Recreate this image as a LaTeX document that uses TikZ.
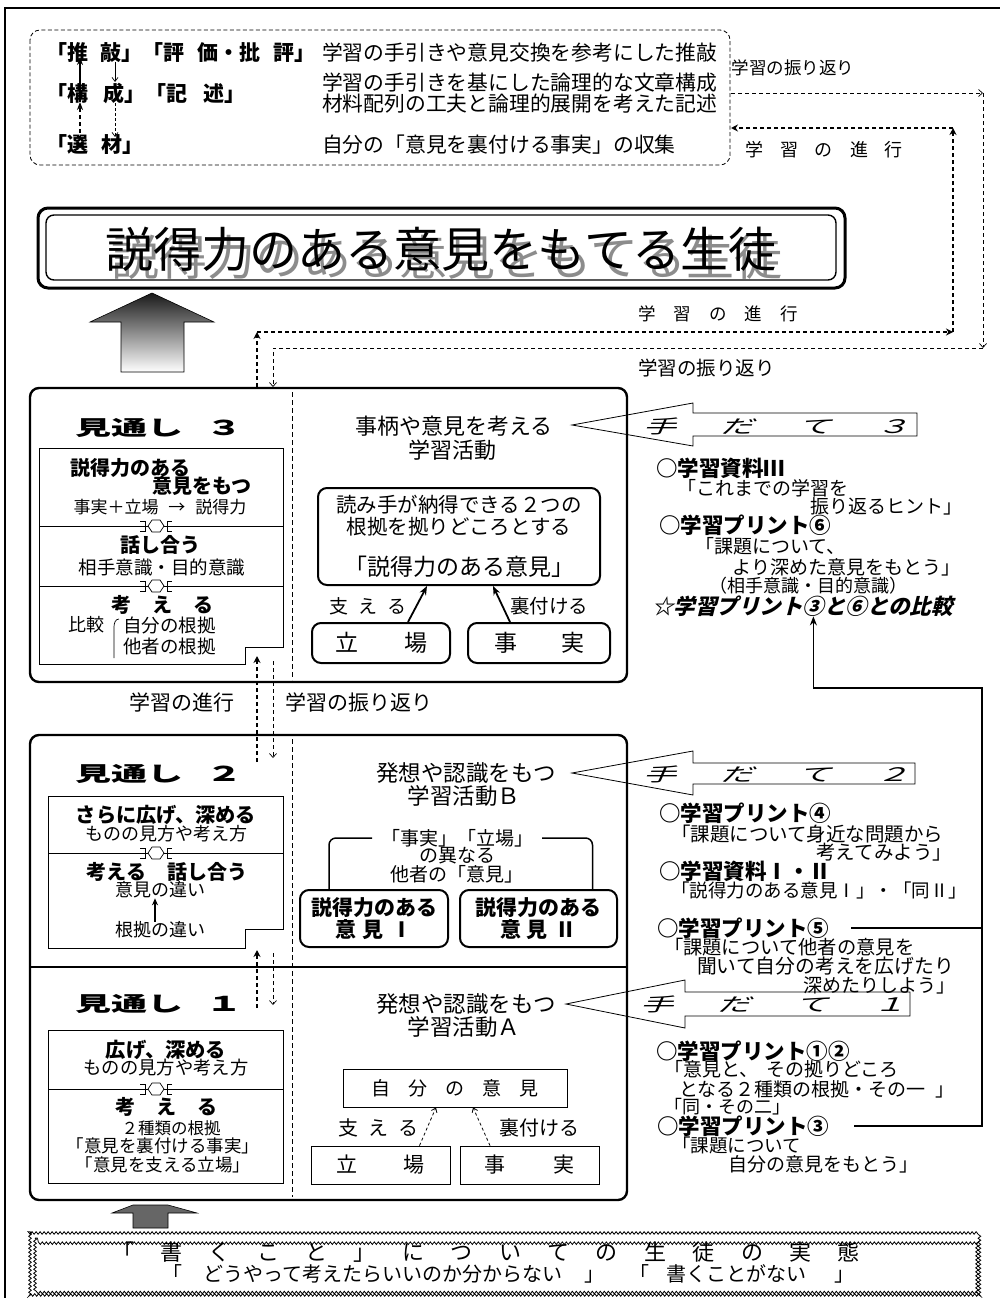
\documentclass[tikz,border=0pt]{standalone}
\usepackage{fontspec}
\setmainfont{Noto Sans CJK JP}
\newfontfamily\jpsl[FakeSlant=0.25]{Noto Sans CJK JP}
\usetikzlibrary{arrows.meta,decorations.pathmorphing}
\newcommand\fz[1]{\fontsize{#1}{#1}\selectfont}
\newcommand\hsp[1]{\hspace{#1pt}}
\newcommand\linksym[2]{%
  \begin{scope}[shift={(#1,#2)}]
    \draw[line width=0.7pt, fill=white] (-8,0) -- (-4,-6) -- (4,-6) -- (8,0) -- (4,6) -- (-4,6) -- cycle;
    \draw[line width=0.7pt] (-16,-5) -- (-11,-5) -- (-11,5) -- (-16,5);
    \draw[line width=0.7pt] (16,-5) -- (11,-5) -- (11,5) -- (16,5);
  \end{scope}}
\begin{document}
\begin{tikzpicture}[x=1pt,y=-1pt,
  tx/.style={inner sep=0pt, outer sep=0pt},
  stagebox/.style={draw, line width=2.4pt, rounded corners=9pt},
  inbox/.style={draw, line width=0.8pt},
  rbox/.style={draw, line width=2pt, rounded corners=9pt, inner sep=0pt},
  sqbox/.style={draw, line width=0.8pt, inner sep=0pt},
  prog/.style={line width=2.2pt, dash pattern=on 4pt off 3pt, -{Stealth[length=7pt,width=7pt]}},
  refl/.style={line width=0.7pt, dash pattern=on 4pt off 3pt, -{Straight Barb[length=4pt,width=7pt]}},
  divider/.style={line width=0.8pt, dash pattern=on 5pt off 3pt},
  solidarr/.style={line width=1.8pt, -{Stealth[length=9pt,width=7pt]}},
  dasharr/.style={line width=0.8pt, dash pattern=on 3pt off 2.5pt, -{Straight Barb[length=4pt,width=6pt]}},
  blockarrow/.style={draw, line width=0.8pt},
  lnk/.style={line width=1.5pt},
]
\useasboundingbox (0,0) rectangle (999,1298);
\fill[white] (0,0) rectangle (999,1298);
% outer frame
\draw[line width=2pt] (5,1300) -- (5,8) -- (1003,8);

% ===== top dashed box =====
\draw[line width=0.8pt, dash pattern=on 4pt off 2.5pt, rounded corners=10pt] (30,30) rectangle (730,165);
\node[tx,anchor=west] (kw1) at (46,53) {\fz{21}\bfseries 「推\hsp{13}敲」「評\hsp{13}価・批\hsp{13}評」};
\node[tx,anchor=west] (kw2) at (46,93) {\fz{21}\bfseries 「構\hsp{16}成」「記\hsp{16}述」};
\node[tx,anchor=west] (kw3) at (46,145) {\fz{21}\bfseries 「選\hsp{14}材」};
\node[tx,anchor=west] (d1) at (322,53) {\fz{20.8}学習の手引きや意見交換を参考にした推敲};
\node[tx,anchor=west] (d2) at (322,83) {\fz{20.8}学習の手引きを基にした論理的な文章構成};
\node[tx,anchor=west] (d3) at (322,104) {\fz{20.8}材料配列の工夫と論理的展開を考えた記述};
\node[tx,anchor=west] (d4) at (322,145) {\fz{20.8}自分の「意見を裏付ける事実」の収集};
\coordinate (ka) at (80,102); \coordinate (kb) at (80,57); \coordinate (kc) at (80,147);
\draw[line width=2pt,-{Stealth[length=8pt,width=6pt]}] (ka) -- (kb);
\draw[line width=2pt,dash pattern=on 4pt off 3pt,-{Stealth[length=8pt,width=6pt]}] (kc) -- (ka);
\coordinate (kd) at (115,62); \coordinate (ke) at (115,82);
\coordinate (kf) at (115,103); \coordinate (kg) at (115,137);
\draw[line width=0.7pt,-{Straight Barb[length=4pt,width=6pt]}] (kd) -- (ke);
\draw[line width=0.7pt,dash pattern=on 3pt off 2pt,-{Straight Barb[length=4pt,width=6pt]}] (kf) -- (kg);

% ===== learning loop paths =====
\node[tx] (lfb1) at (793,68) {\fz{17.5}学習の振り返り};
\node[tx,anchor=west] (lpg1) at (745,150) {\fz{18}学\hsp{17}習\hsp{17}の\hsp{17}進\hsp{17}行};
\node[tx,anchor=west] (lpg2) at (638,314) {\fz{17.5}学\hsp{18}習\hsp{18}の\hsp{18}進\hsp{18}行};
\node[tx,anchor=west] (lfb2) at (638,368) {\fz{19.5}学習の振り返り};
\coordinate (rf0) at (731,93); \coordinate (rf1) at (983,93);
\coordinate (rf2) at (983,348); \coordinate (rf3) at (273,348); \coordinate (rf4) at (273,387);
\draw[refl] (rf0) -- (rf1);
\draw[refl] (rf1) -- (rf2);
\draw[refl] (rf2) -- (rf3) -- (rf4);
\coordinate (pg0) at (257,387); \coordinate (pg1) at (257,332);
\coordinate (pg2) at (953,332); \coordinate (pg3) at (953,128); \coordinate (pg4) at (731,128);
\draw[prog] (pg0) -- (pg1);
\draw[prog] (pg1) -- (pg2);
\draw[prog] (pg2) -- (pg3);
\draw[prog] (pg3) -- (pg4);

% ===== title =====
\draw[line width=3pt, rounded corners=10pt] (38,208) rectangle (845,288);
\draw[line width=1.4pt, rounded corners=8pt] (46,215) rectangle (836,280);
\node[tx, text=black!45] (titsh) at (447,257) {\fz{48}説得力のある意見をもてる生徒};
\node[tx] (title) at (441,249) {\fz{48}説得力のある意見をもてる生徒};

% big gradient arrow
\shade[top color=black!90, bottom color=white, draw=black, line width=0.6pt]
  (152,293) -- (214,322) -- (184,322) -- (184,372) -- (121,372) -- (121,322) -- (90,322) -- cycle;

% ===== stage 3 =====
\draw[stagebox] (30,388) rectangle (627,682);
\draw[divider] (292,392) -- (292,680);
\node[tx,anchor=west] (m3) at (75,428) {\scalebox{1.5}[0.85]{\fz{24}\bfseries 見通し\hsp{16}３}};
\draw[inbox] (39,448) -- (283,448) -- (283,647) -- (245,647) -- (245,664) -- (39,664) -- cycle;
\draw[line width=0.8pt] (39,526) -- (283,526);
\draw[line width=0.8pt] (39,586) -- (283,586);
\node[tx,anchor=west] (s3a) at (70,468) {\fz{20}\bfseries 説得力のある};
\node[tx,anchor=west] (s3b) at (152,486) {\fz{20}\bfseries 意見をもつ};
\node[tx] (s3c) at (160,507) {\fz{17}事実＋立場\hsp{10}→\hsp{10}説得力};
\node[tx] (s3d) at (160,545) {\fz{20}\bfseries 話し合う};
\node[tx] (s3e) at (162,567) {\fz{18.5}相手意識・目的意識};
\node[tx] (s3f) at (162,605) {\fz{20}\bfseries 考\hsp{21}え\hsp{21}る};
\node[tx,anchor=west] (s3g) at (68,625) {\fz{18}比較};
\draw[line width=0.7pt] (119,619) to[out=180,in=90] (114,627) -- (114,658);
\node[tx,anchor=west] (s3h) at (123,625) {\fz{18.5}自分の根拠};
\node[tx,anchor=west] (s3i) at (123,646) {\fz{18.5}他者の根拠};
\linksym{156}{526}
\linksym{156}{586}

\node[tx] (act3a) at (454,426) {\fz{22}事柄や意見を考える};
\node[tx] (act3b) at (452,450) {\fz{22}学習活動};
\node[rbox, minimum width=282pt, minimum height=97pt] (op3) at (459,536.5) {};
\node[tx] (op3a) at (459,505) {\fz{20.5}読み手が納得できる２つの};
\node[tx] (op3b) at (459,527) {\fz{20.5}根拠を拠りどころとする};
\node[tx] (op3c) at (459,567) {\fz{23}「説得力のある意見」};
\node[rbox, minimum width=138pt, minimum height=40pt] (tb3) at (381,643) {\fz{23}立\hsp{46}場};
\node[rbox, minimum width=142pt, minimum height=40pt] (jj3) at (539,643) {\fz{23}事\hsp{44}実};
\draw[solidarr] ([xshift=27pt]tb3.north) -- ([xshift=-32pt]op3.south);
\draw[solidarr] ([xshift=-29pt]jj3.north) -- ([xshift=34pt]op3.south);
\node[tx] (sa3) at (368,606) {\fz{19}支\hsp{10}え\hsp{10}る};
\node[tx] (ur3) at (549,606) {\fz{19.5}裏付ける};

% tedate 3
\draw[blockarrow] (572,425) -- (693,403) -- (693,413) -- (917,413) -- (917,436) -- (693,436) -- (693,446) -- cycle;
\node[tx,anchor=west] (td3) at (643,426) {\scalebox{1.5}[0.85]{\jpsl\fz{22}手\hsp{30}だ\hsp{30}て\hsp{30}３}};
\node[tx,anchor=west] (r3a) at (656,468) {\fz{21.5}\bfseries ○学習資料Ⅲ};
\node[tx,anchor=west] (r3b) at (677,488) {\fz{19}「これまでの学習を};
\node[tx,anchor=east] (r3c) at (962,506) {\fz{19}振り返るヒント」};
\node[tx,anchor=west] (r3d) at (659,525) {\fz{21.5}\bfseries ○学習プリント⑥};
\node[tx,anchor=west] (r3e) at (695,546) {\fz{19}「課題について、};
\node[tx,anchor=east] (r3f) at (960,567) {\fz{19}より深めた意見をもとう」};
\node[tx] (r3g) at (808,586) {\fz{18}（相手意識・目的意識）};
\node[tx,anchor=west] (hikaku) at (652,606) {\jpsl\fz{21.5}\bfseries ☆学習プリント③と⑥との比較};

% between stage 3 and 2
\node[tx] (mpg) at (182,702) {\fz{21}学習の進行};
\node[tx] (mfb) at (359,702) {\fz{21}学習の振り返り};
\coordinate (p2a) at (257,762); \coordinate (p2b) at (257,656);
\draw[prog] (p2a) -- (p2b);
\coordinate (f2a) at (273,661); \coordinate (f2b) at (273,758);
\draw[refl] (f2a) -- (f2b);

% ===== stage 2 + 1 box =====
\draw[stagebox] (30,735) rectangle (627,1200);
\draw[line width=2pt] (30,967) -- (627,967);
\draw[divider] (292,739) -- (292,1197);

% stage 2
\node[tx,anchor=west] (m2) at (75,774) {\scalebox{1.5}[0.85]{\fz{24}\bfseries 見通し\hsp{16}２}};
\draw[inbox] (48,796) -- (283,796) -- (283,929) -- (245,929) -- (245,948) -- (48,948) -- cycle;
\draw[line width=0.8pt] (48,853) -- (283,853);
\node[tx] (s2a) at (166,815) {\fz{20.2}\bfseries さらに広げ、深める};
\node[tx] (s2b) at (166,834) {\fz{18}ものの見方や考え方};
\node[tx] (s2c) at (167,872) {\fz{20}\bfseries 考える\hsp{21}話し合う};
\node[tx] (s2d) at (160,890) {\fz{18}意見の違い};
\node[tx] (s2e) at (160,930) {\fz{18}根拠の違い};
\draw[line width=1.8pt,-{Stealth[length=7pt,width=6pt]}] (s2e.north -| 155,0) -- (s2d.south -| 155,0);
\linksym{156}{853}

\node[tx] (act2a) at (466,773) {\fz{22.5}発想や認識をもつ};
\node[tx] (act2b) at (464,796) {\fz{22.5}学習活動Ｂ};
\node[tx] (tb) at (457,838) {\fz{19}「事実」「立場」};
\node[tx] (tbb) at (457,856) {\fz{19}の異なる};
\node[tx] (tbc) at (457,874) {\fz{19}他者の「意見」};
\node[rbox, minimum width=148pt, minimum height=57pt, align=center, font={\fz{21}\bfseries}] (ik1) at (374,918.5) {説得力のある\\[1pt]意\hsp{6}見\hsp{8}Ⅰ};
\node[rbox, minimum width=157pt, minimum height=57pt, align=center, font={\fz{21}\bfseries}] (ik2) at (538.5,918.5) {説得力のある\\[1pt]意\hsp{6}見\hsp{8}Ⅱ};
\draw[lnk, rounded corners=7pt] ([xshift=-45pt]ik1.north) |- ([xshift=-9pt]tb.west);
\draw[lnk, rounded corners=7pt] ([xshift=54pt]ik2.north) |- ([xshift=9pt]tb.east);

% tedate 2
\draw[blockarrow] (572,773) -- (693,751) -- (693,763) -- (915,763) -- (915,784) -- (693,784) -- (693,795) -- cycle;
\node[tx,anchor=west] (td2) at (643,774) {\scalebox{1.5}[0.85]{\jpsl\fz{22}手\hsp{30}だ\hsp{30}て\hsp{30}２}};
\node[tx,anchor=west] (r2a) at (659,813) {\fz{21.5}\bfseries ○学習プリント④};
\node[tx,anchor=west] (r2b) at (671,834) {\fz{19.5}「課題について身近な問題から};
\node[tx,anchor=east] (r2c) at (952,852) {\fz{19.5}考えてみよう」};
\node[tx,anchor=west] (r2d) at (659,871) {\fz{21.5}\bfseries ○学習資料Ⅰ・Ⅱ};
\node[tx,anchor=west] (r2e) at (671,890) {\fz{18.5}「説得力のある意見Ⅰ」・「同Ⅱ」};
\node[tx,anchor=west] (pp5) at (657,928) {\fz{21.5}\bfseries ○学習プリント⑤};
\node[tx,anchor=west] (r2g) at (664,947) {\fz{19.3}「課題について他者の意見を};
\node[tx,anchor=west] (r2h) at (697,966) {\fz{19.8}聞いて自分の考えを広げたり};
\node[tx,anchor=east] (r2i) at (955,985) {\fz{19}深めたりしよう」};

% between stage 2 and 1
\coordinate (p1a) at (257,1008); \coordinate (p1b) at (257,950);
\draw[prog] (p1a) -- (p1b);
\coordinate (f1a) at (273,953); \coordinate (f1b) at (273,1005);
\draw[refl] (f1a) -- (f1b);

% stage 1
\node[tx,anchor=west] (m1) at (75,1004) {\scalebox{1.5}[0.85]{\fz{24}\bfseries 見通し\hsp{16}１}};
\draw[inbox] (48,1030) rectangle (283,1183);
\draw[line width=0.8pt] (48,1089) -- (283,1089);
\node[tx] (s1a) at (166,1050) {\fz{20.3}\bfseries 広げ、深める};
\node[tx] (s1b) at (166,1068) {\fz{18.3}ものの見方や考え方};
\node[tx] (s1c) at (166,1107) {\fz{20}\bfseries 考\hsp{21}え\hsp{21}る};
\node[tx] (s1d) at (171,1128) {\fz{16.5}２種類の根拠};
\node[tx] (s1e) at (163,1146) {\fz{17.5}「意見を裏付ける事実」};
\node[tx] (s1f) at (163,1165) {\fz{17.5}「意見を支える立場」};
\linksym{156}{1089}

\node[tx] (act1a) at (466,1004) {\fz{22.5}発想や認識をもつ};
\node[tx] (act1b) at (464,1027) {\fz{22.5}学習活動Ａ};
\node[sqbox, minimum width=224pt, minimum height=38pt] (jibun) at (455,1088) {\fz{19}自\hsp{18}分\hsp{18}の\hsp{18}意\hsp{18}見};
\node[sqbox, minimum width=139pt, minimum height=38pt] (tb1) at (380.5,1165) {\fz{21}立\hsp{46}場};
\node[sqbox, minimum width=139pt, minimum height=38pt] (jj1) at (529.5,1165) {\fz{21}事\hsp{48}実};
\draw[dasharr] ([xshift=39pt]tb1.north) -- ([xshift=-19pt]jibun.south);
\draw[dasharr] ([xshift=-39.5pt]jj1.north) -- ([xshift=18pt]jibun.south);
\node[tx] (sa1) at (378,1128) {\fz{20}支\hsp{10}え\hsp{10}る};
\node[tx] (ur1) at (539,1128) {\fz{20}裏付ける};

% tedate 1
\draw[blockarrow] (566,1004) -- (685,980) -- (685,992) -- (910,992) -- (910,1016) -- (685,1016) -- (685,1028) -- cycle;
\node[tx,anchor=west] (td1) at (640,1004) {\scalebox{1.5}[0.85]{\jpsl\fz{22}手\hsp{30}だ\hsp{30}て\hsp{30}１}};
\node[tx,anchor=west] (r1a) at (656,1051) {\fz{21.5}\bfseries ○学習プリント①②};
\node[tx,anchor=west] (r1b) at (664,1069) {\fz{19}「意見と、\hsp{8}その拠りどころ};
\node[tx,anchor=west] (r1c) at (679,1089) {\fz{19}となる２種類の根拠・その一\hsp{10}」};
\node[tx,anchor=west] (r1d) at (664,1107) {\fz{18}「同・その二」};
\node[tx,anchor=west] (pp3) at (657,1126) {\fz{21.5}\bfseries ○学習プリント③};
\node[tx,anchor=west] (r1f) at (672,1145) {\fz{18.5}「課題について};
\node[tx,anchor=east] (r1g) at (918,1164) {\fz{19}自分の意見をもとう」};

% connector from plints 3 and 5 to comparison
\coordinate (cR) at (982,688);
\draw[line width=1.5pt,-{Stealth[length=9pt,width=7pt]}] ([xshift=25pt]pp3.east) -| (cR) -| ([xshift=11pt]hikaku.south);
\draw[line width=1.5pt] ([xshift=22pt]pp5.east) -- (pp5.east -| cR);

% ===== bottom =====
\draw[line width=0.6pt, fill=black!60] (133,1205) -- (168,1205) -- (197,1213) -- (168,1213) -- (168,1228) -- (133,1228) -- (133,1213) -- (112,1213) -- cycle;
\draw[line width=0.8pt, decorate, decoration={snake, amplitude=1.3pt, segment length=4pt}] (30,1233) rectangle (983,1295);
\draw[line width=0.8pt, decorate, decoration={snake, amplitude=1.3pt, segment length=4pt}] (35,1238) rectangle (978,1290);
\node[tx,anchor=west] (bt1) at (112,1252) {\fz{22}「\hsp{26.4}書\hsp{26.4}く\hsp{26.4}こ\hsp{26.4}と\hsp{26.4}」\hsp{26.4}に\hsp{26.4}つ\hsp{26.4}い\hsp{26.4}て\hsp{26.4}の\hsp{26.4}生\hsp{26.4}徒\hsp{26.4}の\hsp{26.4}実\hsp{26.4}態};
\node[tx,anchor=west] (bt2) at (162,1274) {\fz{20}「\hsp{21}どうやって考えたらいいのか分からない\hsp{22}」\hsp{25}「\hsp{17}書くことがない\hsp{28}」};
\end{tikzpicture}
\end{document}
